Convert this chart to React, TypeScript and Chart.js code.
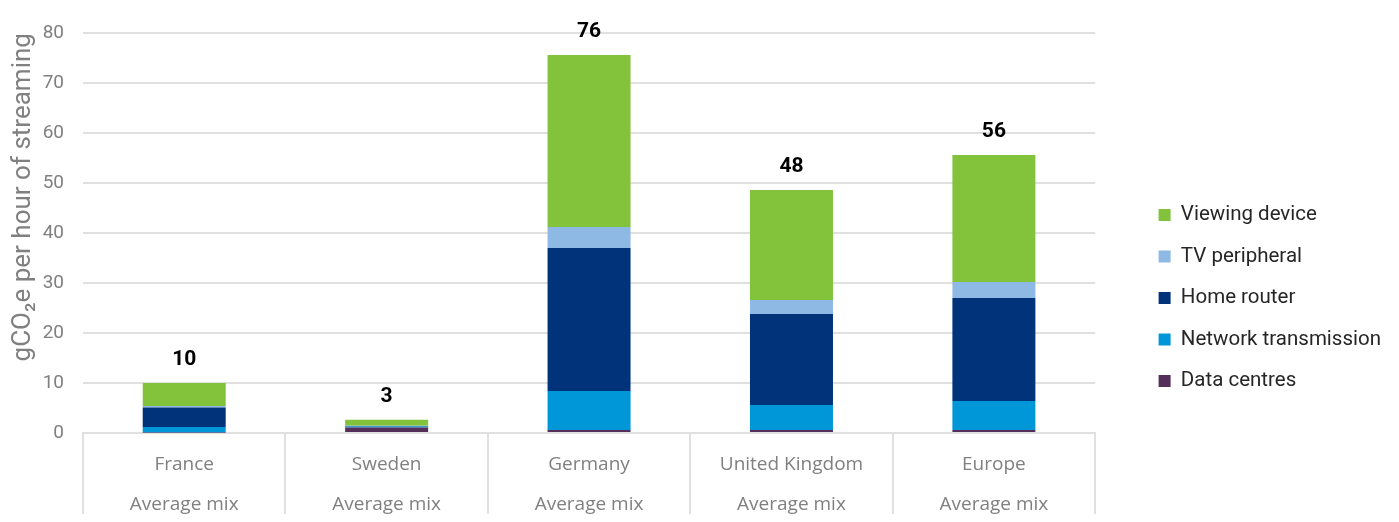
import React, { useEffect, useRef } from "react";
import { Chart, registerables } from "chart.js";

Chart.register(...registerables);

const countries = ["France", "Sweden", "Germany", "United Kingdom", "Europe"];
const mixLabel = "Average mix";
const dataCentres = [0.1, 1.1, 0.6, 0.6, 0.6];
const networkTransmission = [1.1, 0.2, 7.8, 5.0, 5.8];
const homeRouter = [3.9, 0.1, 28.6, 18.2, 20.6];
const tvPeripheral = [0.3, 0.05, 4.2, 2.8, 3.2];
const viewingDevice = [4.6, 1.2, 34.4, 22.0, 25.4];
const totalLabels = ["10", "3", "76", "48", "56"];
const yMin = 0;
const yMax = 80;
const yStep = 10;

const seriesDefs = [
  { label: "Data centres", data: dataCentres, color: "#532F5A" },
  { label: "Network transmission", data: networkTransmission, color: "#0097D8" },
  { label: "Home router", data: homeRouter, color: "#00337A" },
  { label: "TV peripheral", data: tvPeripheral, color: "#8FB9E5" },
  { label: "Viewing device", data: viewingDevice, color: "#82C33B" },
];

const totalsPlugin = {
  id: "totals",
  afterDatasetsDraw(chart: any) {
    const { ctx } = chart;
    const xs = chart.scales.x;
    const ys = chart.scales.y;
    ctx.save();
    ctx.font = "bold 21px Roboto";
    ctx.fillStyle = "#000000";
    ctx.textAlign = "center";
    ctx.textBaseline = "middle";
    countries.forEach((_, i) => {
      const total = seriesDefs.reduce((s, d) => s + d.data[i], 0);
      ctx.fillText(totalLabels[i], xs.getPixelForValue(i), ys.getPixelForValue(total) - 23);
    });
    ctx.restore();
  },
};

export default function App() {
  const ref = useRef<HTMLCanvasElement>(null);
  useEffect(() => {
    if (!ref.current) return;
    const chart = new Chart(ref.current, {
      type: "bar",
      data: {
        labels: countries.map((c) => [c, mixLabel]),
        datasets: seriesDefs.map((d) => ({
          label: d.label,
          data: d.data,
          backgroundColor: d.color,
          borderWidth: 0,
          categoryPercentage: 1,
          barPercentage: 0.41,
        })),
      },
      options: {
        animation: false,
        responsive: true,
        maintainAspectRatio: false,
        layout: { padding: { top: 0, right: 0, left: 0, bottom: 0 } },
        plugins: {
          tooltip: { enabled: false },
          legend: {
            position: "right",
            reverse: true,
            maxWidth: 300,
            title: { display: true, text: "", font: { size: 1 }, padding: { top: 34, bottom: 31 } },
            labels: {
              boxWidth: 12,
              boxHeight: 12,
              padding: 21,
              color: "#262626",
              font: { family: "Roboto", size: 20.5 },
            },
          },
        },
        scales: {
          x: {
            stacked: true,
            grid: {
              drawOnChartArea: false,
              offset: true,
              tickLength: 97,
              color: "#e0e0e0",
              lineWidth: 2,
            },
            border: { display: true, color: "#e0e0e0", width: 2 },
            ticks: {
              padding: -85,
              color: "#808080",
              font: { family: "Open Sans", size: 19, lineHeight: 2.1 },
              maxRotation: 0,
              autoSkip: false,
            },
            title: { display: true, text: "", font: { size: 1 }, padding: { top: 0, bottom: 81 } },
          },
          y: {
            stacked: true,
            min: yMin,
            max: yMax,
            ticks: {
              stepSize: yStep,
              padding: 19,
              color: "#808080",
              font: { family: "Roboto", size: 19, lineHeight: 0.64 },
            },
            grid: { color: "#e0e0e0", lineWidth: 2, drawTicks: false },
            border: { display: false },
            title: {
              display: true,
              text: "gCO₂e per hour of streaming",
              align: "end",
              color: "#808080",
              font: { family: "Roboto", size: 26 },
              padding: { top: 0, bottom: 0 },
            },
            afterFit: (s: any) => {
              s.width = 75;
            },
          },
          spacer: {
            type: "linear",
            position: "right",
            display: true,
            grid: { display: false },
            border: { display: false },
            ticks: { display: false },
            afterFit: (s: any) => {
              s.width = 42.5;
            },
          },
        },
      },
      plugins: [totalsPlugin],
    });
    return () => chart.destroy();
  }, []);
  return (
    <div style={{ width: "100%", height: 514, marginBottom: -8 }}>
      <canvas ref={ref} />
    </div>
  );
}
